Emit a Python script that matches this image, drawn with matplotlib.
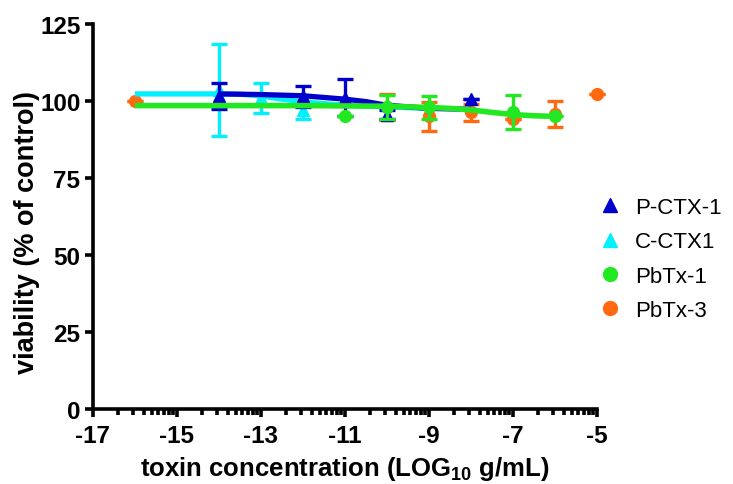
import numpy as np
import matplotlib
matplotlib.use("Agg")
import matplotlib.pyplot as plt
from matplotlib.lines import Line2D

plt.rcParams['font.family'] = ['Liberation Sans', 'DejaVu Sans']
plt.rcParams['mathtext.fontset'] = 'custom'
plt.rcParams['mathtext.rm'] = 'Liberation Sans:bold'
plt.rcParams['mathtext.bf'] = 'Liberation Sans:bold'
plt.rcParams['mathtext.default'] = 'rm'

# ---- data ----
labels = ["P-CTX-1", "C-CTX1", "PbTx-1", "PbTx-3"]
colors = ["#0000CC", "#00F0FF", "#22E822", "#FF6A10"]
markers = ["^", "^", "o", "o"]

pctx_x = [-14, -12, -11, -10, -8]
pctx_y = [101.5, 101.5, 101.0, 95.5, 100.5]
pctx_e = [4.2, 3.5, 6.0, 1.5, 0.0]

cctx_x = [-14, -13, -12]
cctx_y = [103.5, 101.0, 97.0]
cctx_e = [15.0, 5.0, 3.0]

pb1_x = [-11, -10, -9, -7, -6]
pb1_y = [95.0, 98.0, 98.0, 96.4, 95.0]
pb1_e = [0.0, 4.0, 3.7, 5.6, 0.0]

pb3_x = [-16, -10, -9, -8, -7, -6, -5]
pb3_y = [100.0, 98.0, 95.0, 96.3, 94.2, 95.8, 102.3]
pb3_e = [0.0, 4.2, 4.8, 2.8, 0.0, 4.3, 0.0]

# fitted curves
pctx_fit_x = [-14, -13, -12, -11, -10.5, -10, -9, -8]
pctx_fit_y = [102.3, 102.1, 101.7, 100.6, 99.8, 98.6, 97.6, 97.3]
cctx_fit_x = [-16, -14, -13.5, -13, -12.5, -12, -11, -10, -9]
cctx_fit_y = [102.3, 102.3, 102.2, 101.6, 100.6, 99.7, 98.6, 98.1, 97.6]
pb1_fit_x = [-16, -12, -10, -9, -8.5, -8, -7.5, -7, -6.5, -6]
pb1_fit_y = [98.5, 98.5, 98.3, 97.9, 97.6, 97.1, 96.3, 95.6, 95.2, 95.0]

xticks = [-17, -15, -13, -11, -9, -7, -5]
yticks = [0, 25, 50, 75, 100, 125]

# ---- figure ----
fig = plt.figure(figsize=(7.33, 4.85), dpi=100)
ax = fig.add_axes([93/733, 75/485, 504/733, 385/485])

ax.set_xlim(-17, -5)
ax.set_ylim(0, 125)

eb_kw = dict(linestyle='none', capsize=5.5, elinewidth=2.4, capthick=2.4,
             markersize=8.5, clip_on=False)

# PbTx-3 (bottom)
ax.errorbar(pb3_x, pb3_y, yerr=pb3_e, color=colors[3], marker=markers[3], zorder=3, **eb_kw)
# C-CTX1
ax.plot(cctx_fit_x, cctx_fit_y, color=colors[1], lw=3.8, zorder=4, solid_capstyle='butt')
ax.errorbar(cctx_x, cctx_y, yerr=cctx_e, color=colors[1], marker=markers[1], zorder=4, **eb_kw)
# P-CTX-1
ax.plot(pctx_fit_x, pctx_fit_y, color=colors[0], lw=3.8, zorder=5, solid_capstyle='butt')
ax.errorbar(pctx_x, pctx_y, yerr=pctx_e, color=colors[0], marker=markers[0], zorder=5, **eb_kw)
# PbTx-1 (top)
ax.errorbar(pb1_x, pb1_y, yerr=pb1_e, color=colors[2], marker=markers[2], zorder=6, **eb_kw)
ax.plot(pb1_fit_x, pb1_fit_y, color=colors[2], lw=4.0, zorder=6, solid_capstyle='butt')

# axes styling
for s in ['top', 'right']:
    ax.spines[s].set_visible(False)
for s in ['left', 'bottom']:
    ax.spines[s].set_linewidth(2.6)

ax.set_xticks(xticks)
ax.set_xticklabels([str(t) for t in xticks])
minor = []
for s in range(-17, -5, 2):
    for k in range(2, 10):
        minor.append(s + 2*np.log10(k))
ax.set_xticks(minor, minor=True)
ax.set_yticks(yticks)

ax.tick_params(axis='both', which='major', direction='out', length=6, width=2.6,
               labelsize=17.5, pad=3)
ax.tick_params(axis='x', which='major', pad=5)
ax.tick_params(axis='x', which='minor', direction='out', length=4, width=2.6)
for lab in ax.get_xticklabels() + ax.get_yticklabels():
    lab.set_fontweight('bold')

ax.set_xlabel(r"toxin concentration (LOG$_{10}$ g/mL)", fontsize=18.5, fontweight='bold', labelpad=5)
ax.set_ylabel("viability (% of control)", fontsize=19.5, fontweight='bold')
ax.yaxis.set_label_coords(-53/504, (410-232)/385)

handles = [Line2D([], [], linestyle='none', marker=m, color=c, markersize=10)
           for m, c in zip(markers, colors)]
fig.legend(handles, labels, loc='center left', bbox_to_anchor=(577/733, 1 - 260/485),
           frameon=False, fontsize=16, handletextpad=0.5, labelspacing=0.6,
           handlelength=1.2)

fig.savefig("out.png", dpi=100)
